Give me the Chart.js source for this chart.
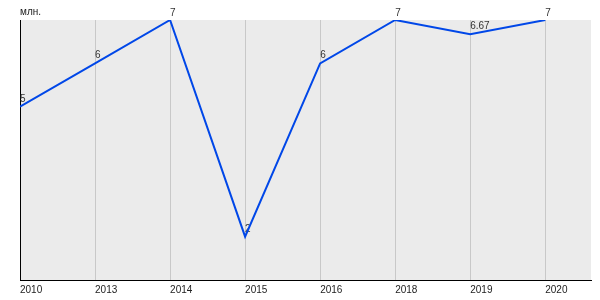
<!DOCTYPE html>
<html>
<head>
<meta charset="utf-8">
<script src="https://cdn.jsdelivr.net/npm/chart.js@4"></script>
<style>
  html, body { margin: 0; padding: 0; background: #fff; }
  #wrap { width: 600px; height: 300px; }
</style>
</head>
<body>
<div id="wrap"><canvas id="myChart"></canvas></div>
<script>
// Données du graphique
const years = ['2010', '2013', '2014', '2015', '2016', '2018', '2019', '2020'];
const values = [5, 6, 7, 2, 6, 7, 6.67, 7];
const valueLabels = ['5', '6', '7', '2', '6', '7', '6.67', '7'];
const unitLabel = 'млн.';

const points = values.map((v, i) => ({ x: i, y: v }));

// Fond gris + unité + étiquettes des points
const decor = {
    id: 'decor',
    beforeDraw(chart) {
        const { ctx, chartArea: a } = chart;
        ctx.save();
        ctx.fillStyle = '#ebebeb';
        ctx.fillRect(a.left, a.top, a.right - a.left, a.bottom - a.top);
        ctx.fillStyle = '#222';
        ctx.font = '10px "Liberation Sans", Arial, sans-serif';
        ctx.textAlign = 'left';
        ctx.textBaseline = 'alphabetic';
        ctx.fillText(unitLabel, a.left, 15);
        ctx.restore();
    },
    beforeDatasetsDraw(chart) {
        const { ctx } = chart;
        const meta = chart.getDatasetMeta(0);
        ctx.save();
        ctx.fillStyle = '#333';
        ctx.font = '10px "Liberation Sans", Arial, sans-serif';
        ctx.textAlign = 'left';
        ctx.textBaseline = 'alphabetic';
        meta.data.forEach((pt, i) => {
            ctx.fillText(valueLabels[i], pt.x, Math.max(pt.y - 5, 16));
        });
        ctx.restore();
    }
};

const ctx = document.getElementById('myChart').getContext('2d');
new Chart(ctx, {
    type: 'line',
    data: {
        datasets: [{
            data: points,
            borderColor: '#0047e8',
            borderWidth: 2,
            pointRadius: 0,
            tension: 0,
            fill: false,
        }],
    },
    options: {
        responsive: true,
        maintainAspectRatio: false,
        animation: false,
        layout: { padding: { left: 20, right: 9, top: 20, bottom: 0 } },
        plugins: {
            legend: { display: false },
            tooltip: { enabled: false },
        },
        scales: {
            x: {
                type: 'linear',
                min: 0,
                max: 7.61,
                grid: { color: '#c8c8c8', drawTicks: false },
                border: { color: '#000', width: 1 },
                ticks: {
                    stepSize: 1,
                    includeBounds: false,
                    autoSkip: false,
                    maxRotation: 0,
                    align: 'start',
                    padding: 4,
                    color: '#222',
                    font: { family: '"Liberation Sans", Arial, sans-serif', size: 10 },
                    callback: (v) => years[v] ?? '',
                },
            },
            y: {
                min: 1,
                max: 7,
                grid: { display: false, drawTicks: false },
                border: { color: '#000', width: 1 },
                ticks: { display: false },
            },
        },
    },
    plugins: [decor],
});
</script>
</body>
</html>
